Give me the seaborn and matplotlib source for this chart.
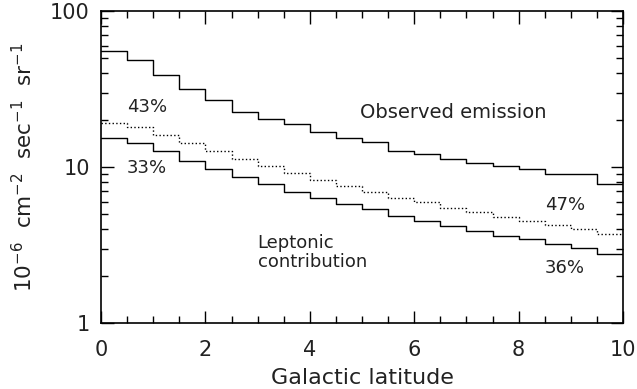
import numpy as np
import pandas as pd
import seaborn as sns
import matplotlib
matplotlib.use("Agg")
import matplotlib.pyplot as plt
from matplotlib.ticker import LogLocator, MultipleLocator, FixedLocator, FixedFormatter

# Bin left edges (Galactic latitude, deg)
latitude = [0.0, 0.5, 1.0, 1.5, 2.0, 2.5, 3.0, 3.5, 4.0, 4.5,
            5.0, 5.5, 6.0, 6.5, 7.0, 7.5, 8.0, 8.5, 9.0, 9.5]
lat_end = 10.0

observed = [55.6, 48.3, 39.1, 31.5, 26.9, 22.5, 20.4, 18.9, 16.8, 15.4,
            14.4, 12.7, 12.1, 11.3, 10.6, 10.1, 9.75, 8.98, 9.05, 7.78]
leptonic_high = [19.1, 18.0, 16.1, 14.3, 12.7, 11.2, 10.1, 9.11, 8.26, 7.55,
                 6.95, 6.36, 5.94, 5.48, 5.12, 4.78, 4.51, 4.25, 4.01, 3.70]
leptonic_low = [15.4, 14.2, 12.7, 11.0, 9.67, 8.59, 7.74, 6.95, 6.33, 5.79,
                5.35, 4.85, 4.53, 4.19, 3.89, 3.61, 3.44, 3.21, 3.01, 2.77]

x_ticks = [0, 2, 4, 6, 8, 10]
y_ticks = [1, 10, 100]
y_ticklabels = ["1", "10", "100"]

sns.set_theme(style="ticks")
plt.rcParams['font.family'] = ['DejaVu Sans']

fig = plt.figure(figsize=(6.37, 3.89), dpi=100)
ax = fig.add_axes([101/637, 1 - 323/389, (623-101)/637, (323-11)/389])

xs = latitude + [lat_end]
def steps(vals):
    return pd.DataFrame({"x": xs, "y": list(vals) + [vals[-1]]})

for vals, style in [(observed, "-"), (leptonic_high, ":"), (leptonic_low, "-")]:
    sns.lineplot(data=steps(vals), x="x", y="y", ax=ax, drawstyle="steps-post",
                 color="black", linewidth=1.0, linestyle=style, legend=False,
                 estimator=None, sort=False)

ax.set_yscale("log")
ax.set_xlim(0, 10)
ax.set_ylim(1, 100)

ax.xaxis.set_major_locator(FixedLocator(x_ticks))
ax.xaxis.set_minor_locator(MultipleLocator(0.5))
ax.yaxis.set_major_locator(FixedLocator(y_ticks))
ax.yaxis.set_major_formatter(FixedFormatter(y_ticklabels))
ax.yaxis.set_minor_locator(LogLocator(base=10, subs=np.arange(2, 10)))
ax.yaxis.set_minor_formatter(plt.NullFormatter())

ax.tick_params(which="both", direction="in", top=True, right=True, color="black",
               labelsize=15, labelcolor="#222222")
ax.tick_params(axis="x", pad=12)
ax.tick_params(axis="y", pad=8)
ax.tick_params(which="major", length=9, width=1.0)
ax.tick_params(which="minor", length=5, width=1.0)
for sp in ax.spines.values():
    sp.set_linewidth(1.2)
    sp.set_color("black")

ax.set_xlabel("Galactic latitude", fontsize=16, color="#222222", labelpad=6)
ax.set_ylabel(r"10$^{-6}$  cm$^{-2}$  sec$^{-1}$  sr$^{-1}$", fontsize=15.5,
              color="#222222", labelpad=10)

fs = 13
ax.text(0.5, 24.3, "43%", fontsize=fs, va="center", ha="left", color="#222222")
ax.text(0.5, 9.8, "33%", fontsize=fs, va="center", ha="left", color="#222222")
ax.text(4.97, 22.2, "Observed emission", fontsize=14, va="center", ha="left", color="#222222")
ax.text(8.5, 5.7, "47%", fontsize=fs, va="center", ha="left", color="#222222")
ax.text(8.5, 2.25, "36%", fontsize=fs, va="center", ha="left", color="#222222")
ax.text(3.0, 3.25, "Leptonic", fontsize=fs, va="center", ha="left", color="#222222")
ax.text(3.0, 2.46, "contribution", fontsize=fs, va="center", ha="left", color="#222222")

fig.savefig("out.png", dpi=100, facecolor="white")
